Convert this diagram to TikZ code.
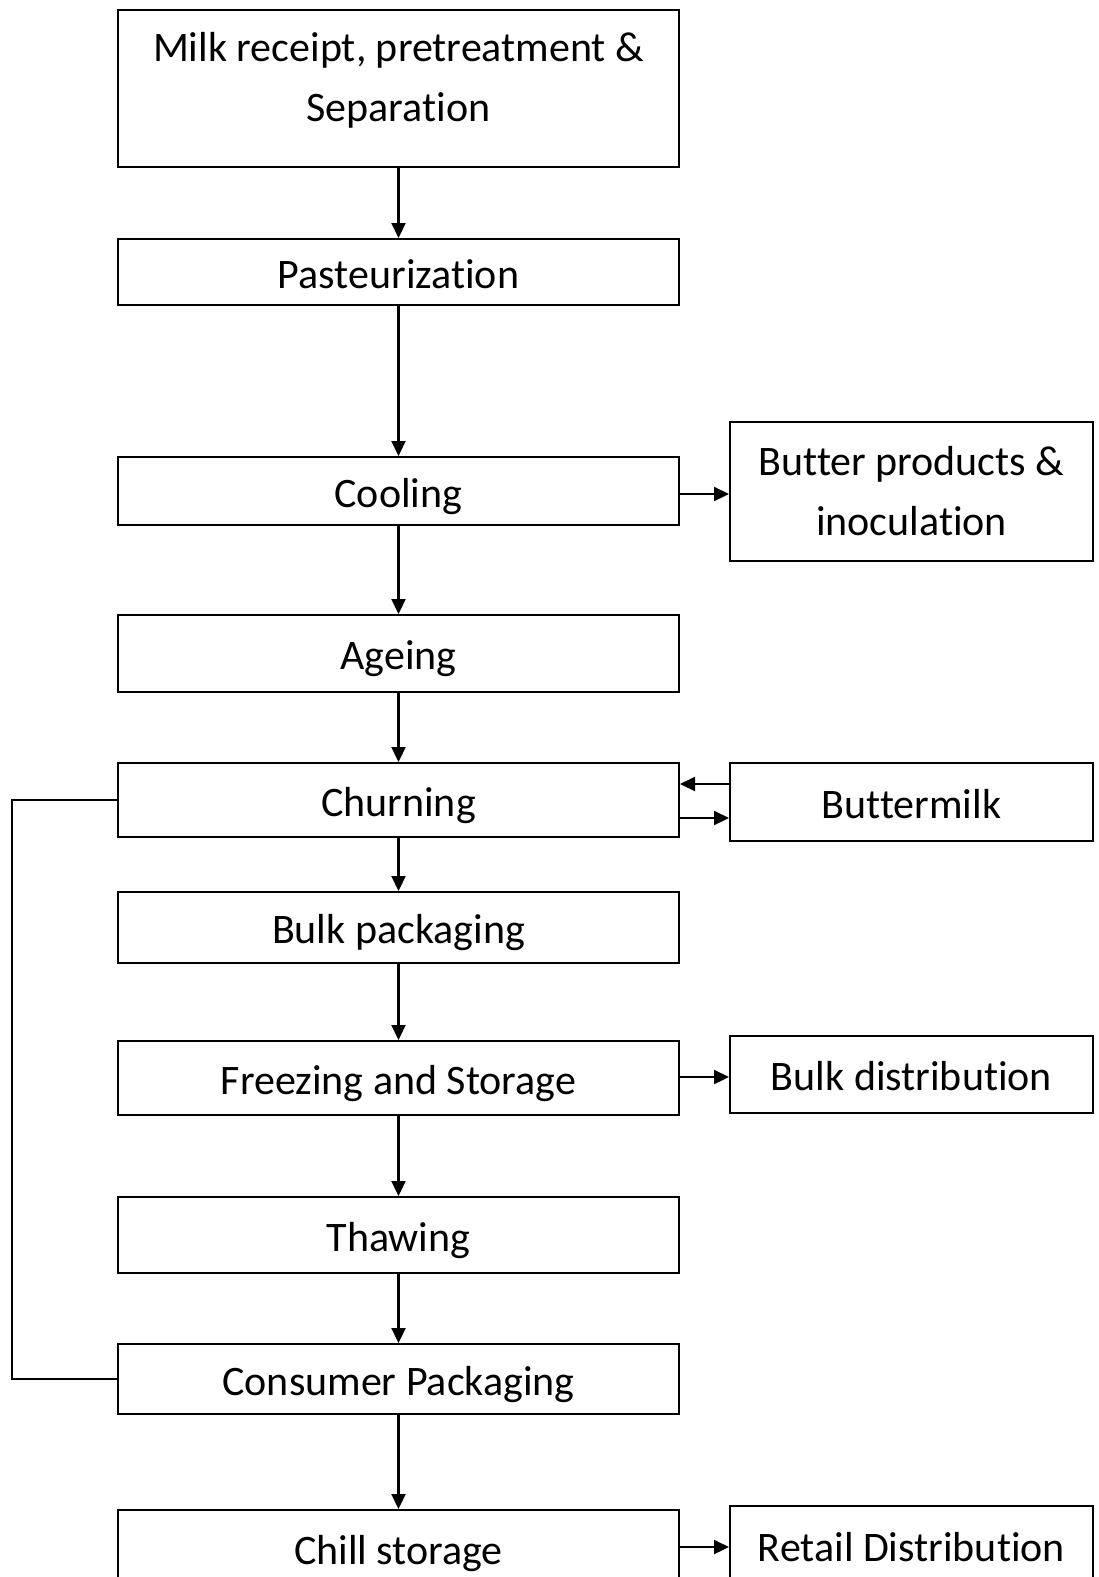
\documentclass[tikz,border=0pt]{standalone}
\usepackage{fontspec}
\setmainfont{Carlito}[Ligatures=NoCommon]
\usetikzlibrary{arrows.meta}
\tikzset{
  box/.style={draw, line width=2pt, inner sep=0pt, align=center,
    font=\fontsize{42}{60}\selectfont},
  one/.style={text height=40pt, text depth=8pt},
  lbox/.style={box, minimum width=561pt},
  rbox/.style={box, minimum width=363pt},
  arr/.style={line width=2.2pt, -{Triangle[length=15pt,width=14pt]}},
  ln/.style={line width=2pt}
}
\begin{document}
\begin{tikzpicture}[x=1pt,y=-1pt]
\useasboundingbox (0,0) rectangle (1098,1577);
\node[lbox, minimum height=157pt, label={[name=milktext, align=center, font=\fontsize{42}{60}\selectfont, yshift=8pt]center:Milk receipt, pretreatment \&\\Separation}] (milk) at (398.5,88.5) {};
\node[lbox, one, minimum height=66pt] (past) at (398.5,272) {Pasteurization};
\node[lbox, one, minimum height=68pt] (cool) at (398.5,491) {Cooling};
\node[rbox, minimum height=139pt] (butter) at (911.5,491.5) {Butter products \&\\inoculation};
\node[lbox, one, minimum height=77pt] (age) at (398.5,653.5) {Ageing};
\node[lbox, one, minimum height=74pt] (churn) at (398.5,800) {Churning};
\node[rbox, one, minimum height=78pt] (bm) at (911.5,802) {Buttermilk};
\node[lbox, one, minimum height=71pt] (bulk) at (398.5,927.5) {Bulk packaging};
\node[lbox, one, minimum height=74pt] (freeze) at (398.5,1078) {Freezing and Storage};
\node[rbox, one, minimum height=77pt] (bdist) at (911.5,1074.5) {Bulk distribution};
\node[lbox, one, minimum height=76pt] (thaw) at (398.5,1235) {Thawing};
\node[lbox, one, minimum height=70pt] (cons) at (398.5,1379) {Consumer Packaging};
\node[lbox, one, minimum height=76pt] (chill) at (398.5,1548) {Chill storage};
\node[rbox, one, minimum height=78pt] (retail) at (911.5,1545) {Retail Distribution};

\draw[arr] (milk.south) -- (past.north);
\draw[arr] (past.south) -- (cool.north);
\draw[arr] (cool.south) -- (age.north);
\draw[arr] (age.south) -- (churn.north);
\draw[arr] (churn.south) -- (bulk.north);
\draw[arr] (bulk.south) -- (freeze.north);
\draw[arr] (freeze.south) -- (thaw.north);
\draw[arr] (thaw.south) -- (cons.north);
\draw[arr] (cons.south) -- (chill.north);

\draw[arr] (cool.east |- 0,494) -- (butter.west |- 0,494);
\draw[arr] (bm.west |- 0,784) -- (churn.east |- 0,784);
\draw[arr] (churn.east |- 0,818) -- (bm.west |- 0,818);
\draw[arr] (freeze.east |- 0,1077) -- (bdist.west |- 0,1077);
\draw[arr] (chill.east |- 0,1547) -- (retail.west |- 0,1547);

\coordinate (l1) at (12,800);
\coordinate (l2) at (12,1379);
\draw[ln] (churn.west) -- (l1) -- (l2) -- (cons.west);
\end{tikzpicture}
\end{document}
